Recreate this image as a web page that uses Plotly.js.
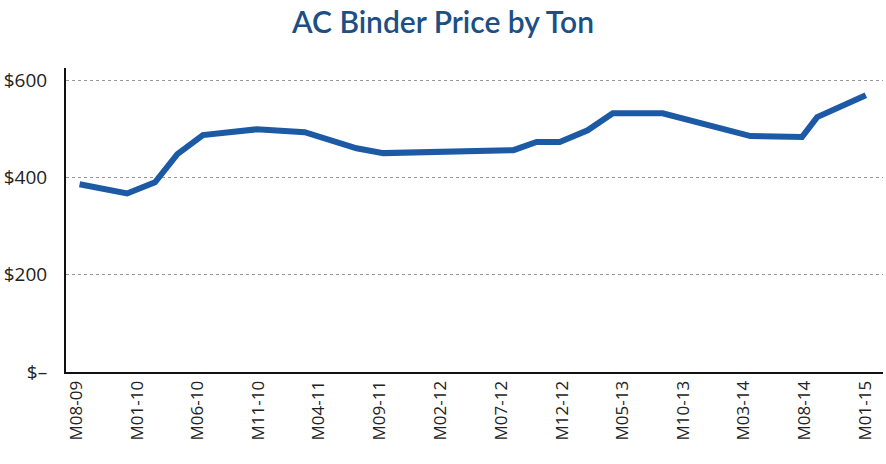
<!DOCTYPE html>
<html>
<head>
<meta charset="utf-8">
<script src="https://cdn.plot.ly/plotly-3.0.1.min.js"></script>
<style>html,body{margin:0;padding:0;background:#fff}#chart{width:886px;height:464px}</style>
</head>
<body>
<div id="chart"></div>
<script>
// Data
const dates = ["2009-08-10","2009-12-07","2010-02-15","2010-04-12","2010-06-15","2010-10-28","2011-02-25","2011-07-05","2011-09-10","2012-08-01","2012-09-28","2012-11-25","2013-02-03","2013-04-07","2013-08-10","2014-03-18","2014-07-25","2014-09-01","2015-01-01"];
const prices = [386,367,390,448,487,499,493,460,450,456,473,473,497,532,532,485,483,524,569];
const tickDates = ["2009-08-01","2010-01-01","2010-06-01","2010-11-01","2011-04-01","2011-09-01","2012-02-01","2012-07-01","2012-12-01","2013-05-01","2013-10-01","2014-03-01","2014-08-01","2015-01-01"];
const tickLabels = ["M08-09","M01-10","M06-10","M11-10","M04-11","M09-11","M02-12","M07-12","M12-12","M05-13","M10-13","M03-14","M08-14","M01-15"];
const yTickVals = [0,200,400,600];
const yTickText = ["$–","$200","$400","$600"];
const titleText = "AC Binder Price by Ton";

const trace = {
  x: dates, y: prices, type: "scatter", mode: "lines",
  line: {color: "#1d5aa6", width: 6, shape: "linear"},
  hoverinfo: "skip"
};

const layout = {
  width: 886, height: 464,
  margin: {l: 66, r: 3, t: 68, b: 92},
  paper_bgcolor: "#fff", plot_bgcolor: "#fff",
  showlegend: false,
  title: {
    text: titleText, x: 0.5, xref: "container", xanchor: "center",
    y: 0.952, yref: "container", yanchor: "middle",
    font: {family: "Lato", size: 30, color: "#1c4f84", weight: 600}
  },
  xaxis: {
    type: "date",
    range: ["2009-07-07", "2015-02-13"],
    tickmode: "array", tickvals: tickDates, ticktext: tickLabels,
    tickangle: -90, ticks: "",
    tickfont: {family: "Open Sans", size: 17, color: "#222"},
    showgrid: false, zeroline: false,
    showline: true, linecolor: "#111", linewidth: 2,
    fixedrange: true
  },
  yaxis: {
    range: [0, 625],
    tickmode: "array", tickvals: yTickVals, ticktext: yTickText,
    tickfont: {family: "Open Sans", size: 19, color: "#222"},
    ticks: "", ticklabelstandoff: 13,
    showgrid: true, gridcolor: "#999", gridwidth: 1, griddash: "dot",
    zeroline: false,
    showline: true, linecolor: "#111", linewidth: 2,
    fixedrange: true
  }
};

Plotly.newPlot("chart", [trace], layout, {displayModeBar: false, staticPlot: true});
</script>
</body>
</html>
